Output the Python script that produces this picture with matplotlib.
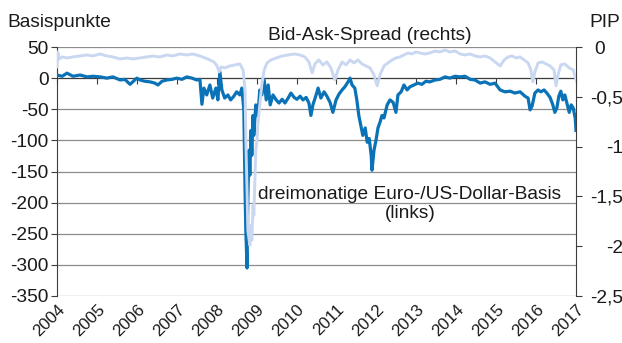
import matplotlib
matplotlib.use("Agg")
import matplotlib.pyplot as plt
import matplotlib.transforms as mtransforms

plt.rcParams['font.family'] = ['Liberation Sans', 'DejaVu Sans']
plt.rcParams['font.size'] = 13.8

dunkelblau = "#0a72b6"
hellblau = "#c9d7f1"
gitterfarbe = "#8c8c8c"
achsenfarbe = "#3c3c3c"

# dreimonatige Euro-/US-Dollar-Basis, Basispunkte (links)
basis_t = [2004.00, 2004.13, 2004.25, 2004.40, 2004.58, 2004.75, 2004.90, 2005.08, 2005.25, 2005.40,
           2005.58, 2005.70, 2005.83, 2006.00, 2006.08, 2006.20, 2006.33, 2006.45, 2006.53, 2006.63,
           2006.75, 2006.88, 2007.00, 2007.13, 2007.25, 2007.38, 2007.50, 2007.58, 2007.63, 2007.68,
           2007.75, 2007.83, 2007.90, 2007.98, 2008.03, 2008.08, 2008.13, 2008.20, 2008.28, 2008.35,
           2008.43, 2008.50, 2008.58, 2008.63, 2008.68, 2008.71, 2008.73, 2008.76, 2008.78, 2008.81,
           2008.83, 2008.86, 2008.88, 2008.91, 2008.93, 2008.98, 2009.03, 2009.08, 2009.13, 2009.19,
           2009.24, 2009.29, 2009.34, 2009.41, 2009.49, 2009.56, 2009.64, 2009.71, 2009.79, 2009.86,
           2009.94, 2010.01, 2010.09, 2010.16, 2010.24, 2010.31, 2010.36, 2010.41, 2010.49, 2010.54,
           2010.61, 2010.69, 2010.76, 2010.84, 2010.91, 2010.99, 2011.06, 2011.14, 2011.21, 2011.29,
           2011.34, 2011.39, 2011.46, 2011.51, 2011.56, 2011.61, 2011.66, 2011.72, 2011.77, 2011.82,
           2011.87, 2011.89, 2011.94, 2011.99, 2012.04, 2012.09, 2012.14, 2012.19, 2012.27, 2012.34,
           2012.42, 2012.49, 2012.54, 2012.62, 2012.69, 2012.77, 2012.84, 2012.94, 2013.04, 2013.14,
           2013.24, 2013.34, 2013.47, 2013.59, 2013.72, 2013.84, 2013.97, 2014.10, 2014.22, 2014.35,
           2014.47, 2014.60, 2014.72, 2014.85, 2014.97, 2015.10, 2015.22, 2015.35, 2015.47, 2015.60,
           2015.72, 2015.80, 2015.85, 2015.90, 2015.97, 2016.05, 2016.12, 2016.20, 2016.27, 2016.35,
           2016.42, 2016.47, 2016.52, 2016.57, 2016.62, 2016.67, 2016.72, 2016.78, 2016.83, 2016.88,
           2016.93, 2016.98, 2017.00]
basis_bp = [5, 3, 8, 3, 5, 2, 3, 2, 0, 2,
            -3, -2, -10, 0, -3, -5, -6, -8, -11, -5,
            -3, -2, 0, -2, 2, 0, -3, -2, -42, -16,
            -27, -11, -32, -16, -35, 10, -19, -32, -27, -35,
            -29, -22, -27, -16, -51, -180, -245, -305, -196, -116,
            -156, -84, -124, -60, -92, -43, -60, -19, -27, -3,
            -35, -11, -43, -27, -35, -40, -34, -40, -32, -24,
            -31, -34, -29, -35, -31, -40, -60, -43, -27, -16,
            -32, -22, -29, -39, -55, -35, -26, -19, -14, -6,
            0, -11, -16, -35, -60, -76, -92, -80, -103, -97,
            -124, -148, -116, -100, -80, -71, -60, -64, -43, -35,
            -39, -55, -27, -22, -11, -19, -14, -11, -8, -10,
            -5, -6, -3, -2, 2, 0, 3, 2, 3, -2,
            -3, -8, -6, -10, -8, -19, -22, -21, -24, -22,
            -29, -32, -51, -45, -24, -19, -22, -19, -24, -31,
            -43, -55, -48, -29, -21, -35, -27, -42, -55, -43,
            -48, -64, -84]

# Bid-Ask-Spread, PIP (rechts)
spread_t = [2004.00, 2004.02, 2004.05, 2004.13, 2004.25, 2004.40, 2004.58, 2004.75, 2004.90, 2005.08,
            2005.25, 2005.40, 2005.58, 2005.75, 2005.90, 2006.08, 2006.25, 2006.40, 2006.58, 2006.75,
            2006.90, 2007.08, 2007.25, 2007.40, 2007.58, 2007.71, 2007.83, 2007.93, 2008.01, 2008.06,
            2008.11, 2008.21, 2008.33, 2008.46, 2008.58, 2008.66, 2008.71, 2008.73, 2008.76, 2008.78,
            2008.83, 2008.86, 2008.88, 2008.91, 2008.93, 2008.96, 2008.98, 2009.01, 2009.03, 2009.08,
            2009.13, 2009.19, 2009.26, 2009.36, 2009.49, 2009.64, 2009.79, 2009.94, 2010.09, 2010.21,
            2010.31, 2010.39, 2010.46, 2010.56, 2010.66, 2010.76, 2010.86, 2010.96, 2011.04, 2011.14,
            2011.24, 2011.34, 2011.44, 2011.54, 2011.64, 2011.74, 2011.84, 2011.94, 2012.02, 2012.09,
            2012.19, 2012.29, 2012.39, 2012.49, 2012.59, 2012.69, 2012.79, 2012.89, 2012.99, 2013.09,
            2013.22, 2013.34, 2013.47, 2013.59, 2013.72, 2013.84, 2013.97, 2014.10, 2014.22, 2014.35,
            2014.47, 2014.60, 2014.72, 2014.85, 2014.97, 2015.10, 2015.20, 2015.30, 2015.40, 2015.50,
            2015.60, 2015.70, 2015.80, 2015.87, 2015.92, 2015.97, 2016.05, 2016.15, 2016.25, 2016.35,
            2016.45, 2016.50, 2016.55, 2016.62, 2016.72, 2016.83, 2016.93, 2017.00]
spread_pip = [-0.20, -0.05, -0.12, -0.10, -0.11, -0.10, -0.09, -0.08, -0.09, -0.07,
              -0.09, -0.10, -0.12, -0.11, -0.12, -0.11, -0.10, -0.09, -0.10, -0.08,
              -0.09, -0.07, -0.08, -0.07, -0.09, -0.11, -0.13, -0.15, -0.19, -0.25,
              -0.20, -0.21, -0.19, -0.18, -0.17, -0.23, -0.43, -0.93, -1.44, -1.84,
              -1.99, -1.79, -1.94, -1.59, -1.69, -1.29, -1.03, -0.93, -0.78, -0.58,
              -0.38, -0.23, -0.16, -0.13, -0.11, -0.09, -0.08, -0.07, -0.08, -0.10,
              -0.15, -0.26, -0.17, -0.13, -0.18, -0.15, -0.21, -0.33, -0.23, -0.15,
              -0.18, -0.13, -0.16, -0.13, -0.17, -0.19, -0.21, -0.28, -0.39, -0.28,
              -0.19, -0.16, -0.13, -0.11, -0.10, -0.08, -0.06, -0.07, -0.05, -0.06,
              -0.07, -0.06, -0.04, -0.05, -0.03, -0.05, -0.04, -0.07, -0.08, -0.07,
              -0.09, -0.10, -0.09, -0.11, -0.15, -0.19, -0.13, -0.10, -0.09, -0.11,
              -0.10, -0.13, -0.16, -0.23, -0.35, -0.25, -0.16, -0.15, -0.17, -0.19,
              -0.23, -0.39, -0.28, -0.18, -0.17, -0.21, -0.23, -0.33]

jahre = list(range(2004, 2018))
links_ticks = [50, 0, -50, -100, -150, -200, -250, -300, -350]
rechts_ticks = [0, -0.5, -1, -1.5, -2, -2.5]
rechts_labels = ['0', '-0,5', '-1', '-1,5', '-2', '-2,5']

fig = plt.figure(figsize=(6.22, 3.43), dpi=100)
ax = fig.add_axes([57/622, 1 - 296/343, (576-57)/622, (296-47)/343])

ax.plot(basis_t, basis_bp, color=dunkelblau, lw=2.3, zorder=3)
ax.set_xlim(2004, 2017)
ax.set_ylim(-350, 50)
ax.set_yticks(links_ticks)
ax.set_yticklabels([str(v) for v in links_ticks])
ax.yaxis.grid(True, color=gitterfarbe, lw=0.9)
ax.set_axisbelow(True)

# x-Achse liegt bei null, Beschriftung unten
ax.spines['bottom'].set_position(('data', 0))
ax.spines['bottom'].set_color(achsenfarbe)
ax.spines['bottom'].set_zorder(2.5)
ax.spines['left'].set_color(achsenfarbe)
ax.spines['top'].set_visible(False)
ax.spines['right'].set_visible(False)
ax.set_xticks(jahre)
ax.tick_params(axis='x', direction='out', length=4, color=achsenfarbe, labelbottom=False)
ax.tick_params(axis='y', direction='out', length=4, color=achsenfarbe, pad=2, labelcolor='#1a1a1a')

unten = ax.secondary_xaxis('bottom')
unten.set_xticks(jahre, [str(j) for j in jahre])
unten.tick_params(length=0, pad=4, labelcolor='#1a1a1a', labelsize=12.2)
unten.spines['bottom'].set_visible(False)
plt.setp(unten.get_xticklabels(), rotation=45, ha='right', rotation_mode='anchor')

ax2 = ax.twinx()
ax2.plot(spread_t, spread_pip, color=hellblau, lw=2.1, zorder=3)
ax2.set_ylim(-2.5, 0)
ax2.set_yticks(rechts_ticks)
ax2.set_yticklabels(rechts_labels)
for s in ['top', 'bottom', 'left']:
    ax2.spines[s].set_visible(False)
ax2.spines['right'].set_color(achsenfarbe)
ax2.tick_params(axis='y', direction='out', length=4, color=achsenfarbe, pad=30, labelcolor='#1a1a1a')
for lab in ax2.get_yticklabels():
    lab.set_horizontalalignment('right')
null_label = ax2.get_yticklabels()[0]
null_label.set_transform(null_label.get_transform() +
                         mtransforms.ScaledTranslation(-0.18, 0, fig.dpi_scale_trans))

fig.text(7/622, 1 - 27/343, 'Basispunkte', ha='left', va='baseline', color='#1a1a1a')
fig.text(620/622, 1 - 27/343, 'PIP', ha='right', va='baseline', color='#1a1a1a')
fig.text(370/622, 1 - 40/343, 'Bid-Ask-Spread (rechts)', ha='center', va='baseline', color='#1a1a1a')
fig.text(410/622, 1 - 204/343, 'dreimonatige Euro-/US-Dollar-Basis\n(links)',
         ha='center', va='center', linespacing=1.1, color='#1a1a1a')

fig.savefig('out.png', dpi=100)
